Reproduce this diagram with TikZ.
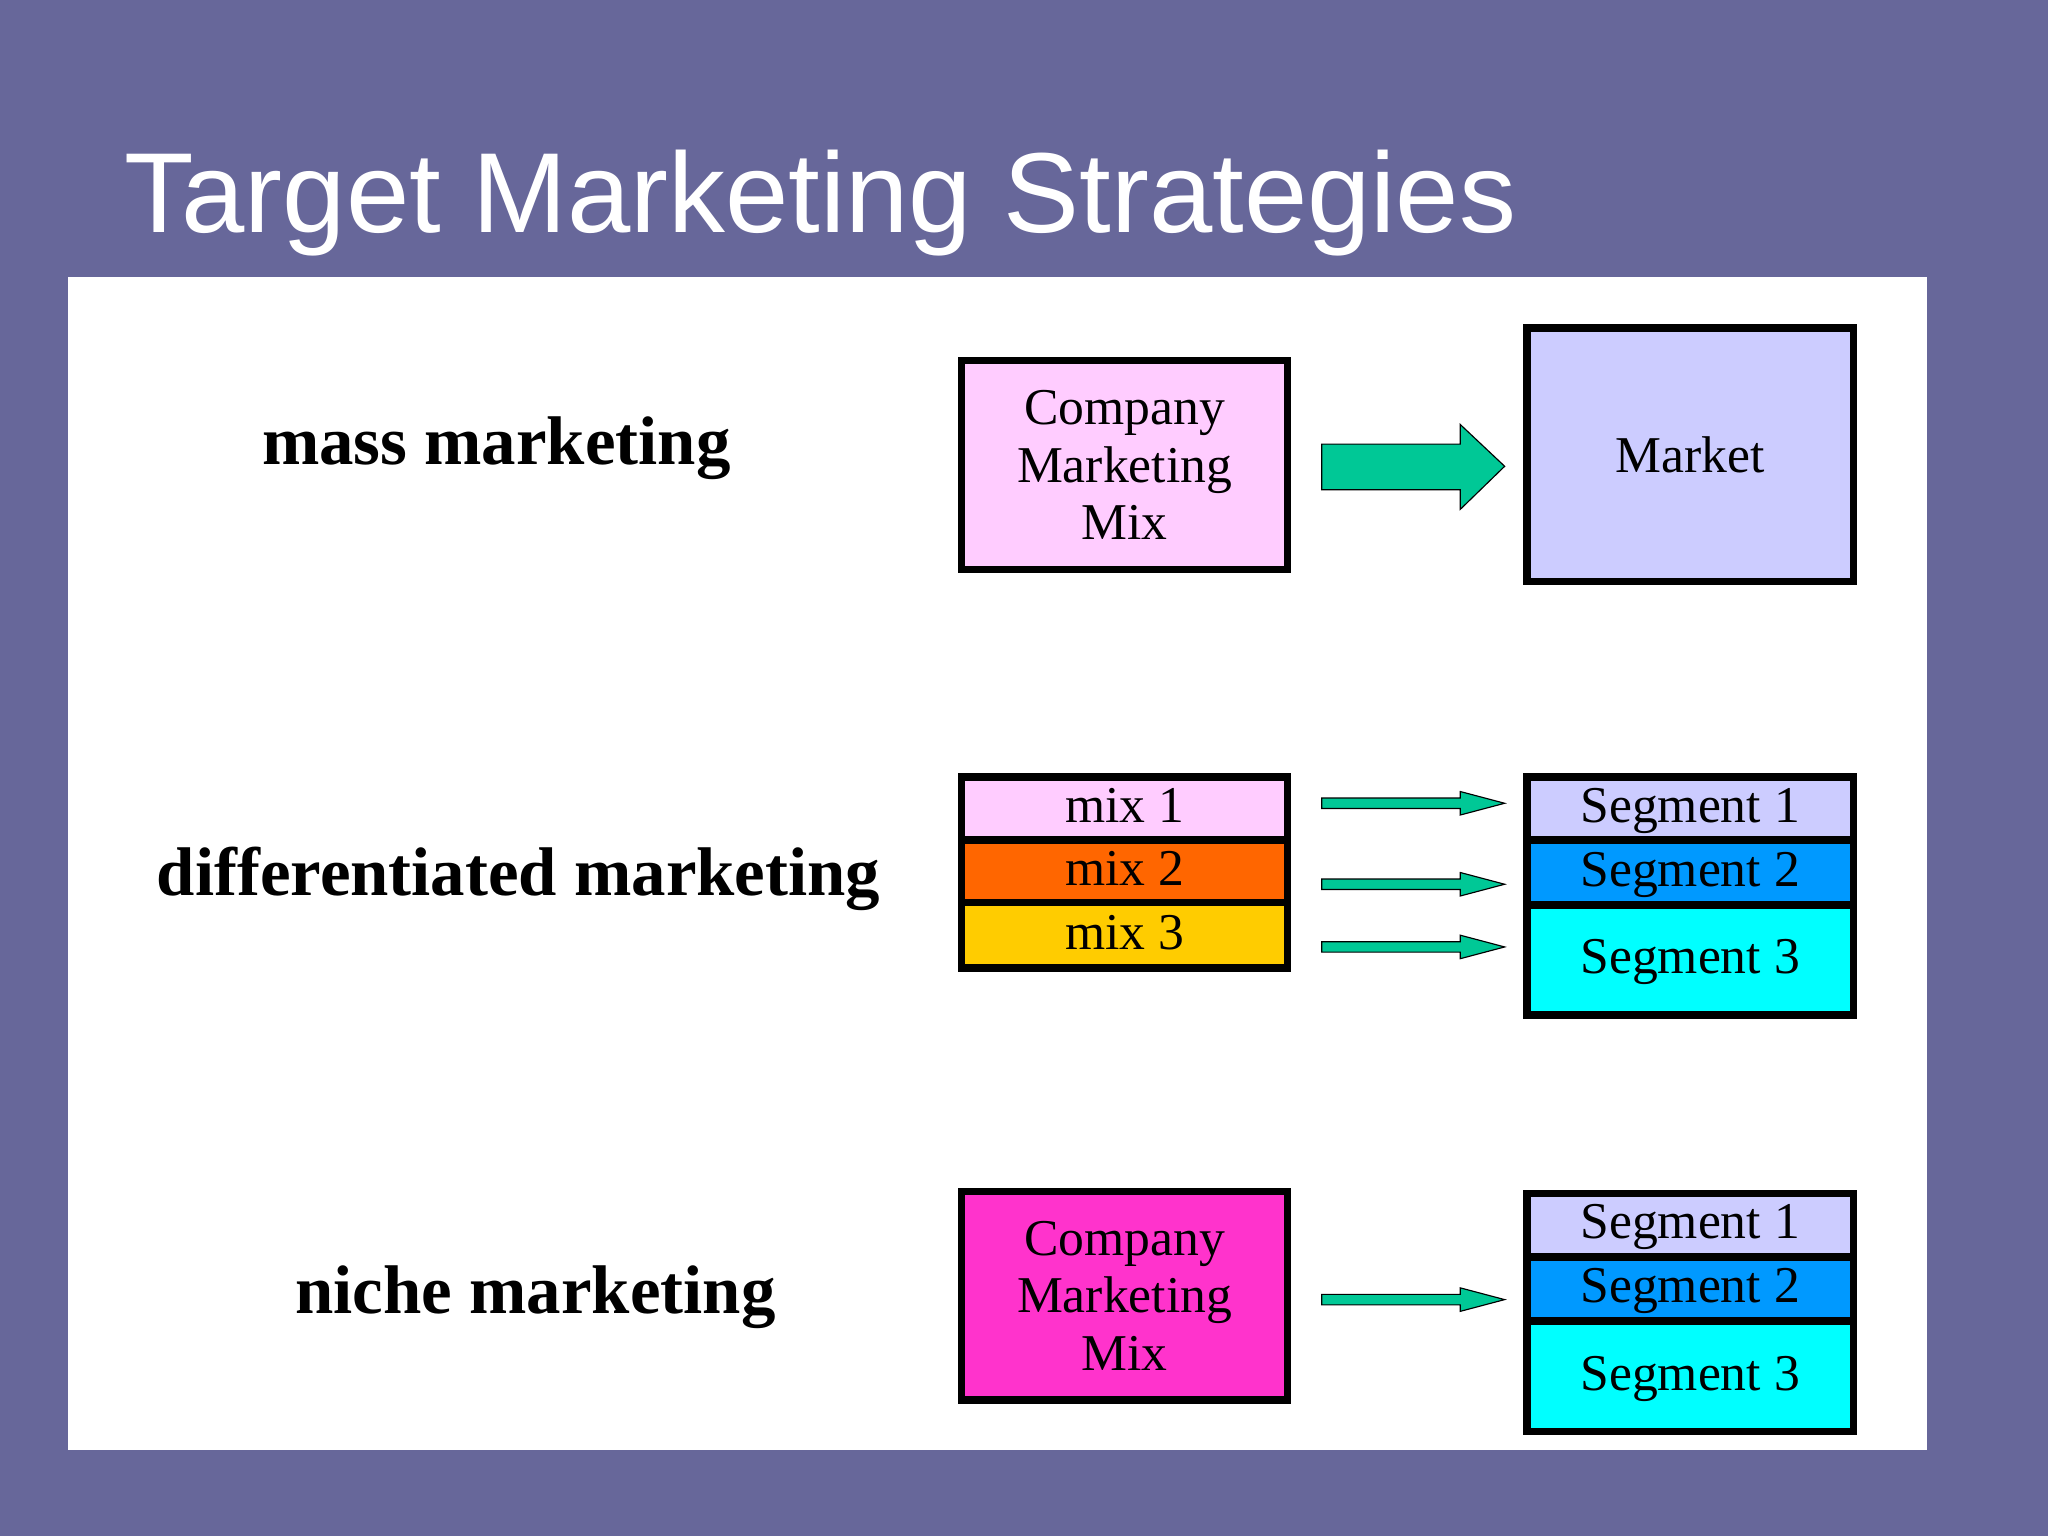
\documentclass[tikz,border=0pt]{standalone}
\usepackage{fontspec}
\setmainfont{Liberation Serif}
\newfontfamily\titlefont{Liberation Sans}
\begin{document}
\begin{tikzpicture}[x=0.02cm,y=-0.02cm,
  box/.style={draw=black,line width=3.2pt,inner sep=0pt,font=\fontsize{22.5}{25}\selectfont,align=center,minimum width=5cm},
  row/.style={box,text depth=0.1cm},
  lab/.style={font=\fontsize{30}{34}\selectfont\bfseries},
  arr/.style={draw=black,line width=0.5pt,fill=arrgreen}]
\definecolor{bg}{RGB}{103,103,154}
\definecolor{arrgreen}{RGB}{0,200,150}
\definecolor{pinkl}{RGB}{255,204,255}
\definecolor{lav}{RGB}{204,204,255}
\definecolor{org}{RGB}{255,102,0}
\definecolor{yel}{RGB}{255,204,0}
\definecolor{blu}{RGB}{0,153,255}
\definecolor{cya}{RGB}{0,255,255}
\definecolor{mag}{RGB}{255,51,204}
\fill[bg] (0,0) rectangle (1568,1176);
\useasboundingbox (0,0) rectangle (1568,1176);
\fill[white] (52,212) rectangle (1475,1110);
\node[anchor=base west,text=white,font=\titlefont\fontsize{49.6}{55}\selectfont,inner sep=0pt] (title) at (95,178) {Target Marketing Strategies};
% labels
\node[lab] (l1) at (380,343) {mass marketing};
\node[lab] (l2) at (397,673) {differentiated marketing};
\node[lab] (l3) at (410,993) {niche marketing};
% mass
\node[box,fill=pinkl,minimum height=3.2cm] (cm1) at (861,356) {Company\\Marketing\\Mix};
\node[box,fill=lav,minimum height=3.88cm] (mk) at (1294,348) {Market};
\draw[arr] (1012,340) -- (1118,340) -- (1118,325) -- (1152,357) -- (1118,390) -- (1118,375) -- (1012,375) -- cycle;
% differentiated
\node[row,fill=pinkl,minimum height=0.96cm] (m1) at (861,619) {mix 1};
\node[row,fill=org,minimum height=0.96cm] (m2) at (861,667) {mix 2};
\node[row,fill=yel,minimum height=1cm] (m3) at (861,716) {mix 3};
\node[row,fill=lav,minimum height=0.96cm] (s1) at (1294,619) {Segment 1};
\node[row,fill=blu,minimum height=0.98cm] (s2) at (1294,668) {Segment 2};
\node[row,fill=cya,minimum height=1.68cm] (s3) at (1294,735) {Segment 3};
\foreach \yy in {615,677,725}{
 \draw[arr] (1012,\yy-4) -- (1118,\yy-4) -- (1118,\yy-9) -- (1152,\yy) -- (1118,\yy+9) -- (1118,\yy+4) -- (1012,\yy+4) -- cycle;}
% niche
\node[box,fill=mag,minimum height=3.2cm] (cm2) at (861,992) {Company\\Marketing\\Mix};
\node[row,fill=lav,minimum height=0.96cm] (n1) at (1294,938) {Segment 1};
\node[row,fill=blu,minimum height=0.98cm] (n2) at (1294,987) {Segment 2};
\node[row,fill=cya,minimum height=1.68cm] (n3) at (1294,1054) {Segment 3};
\draw[arr] (1012,991) -- (1118,991) -- (1118,986) -- (1152,995) -- (1118,1004) -- (1118,999) -- (1012,999) -- cycle;
\end{tikzpicture}
\end{document}
